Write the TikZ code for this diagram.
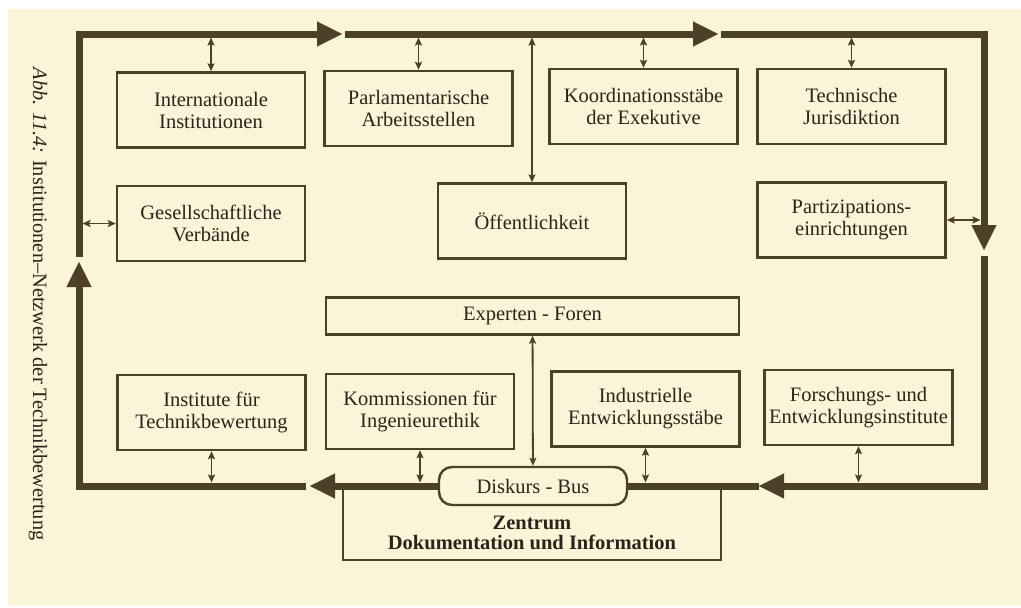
\documentclass[tikz,border=0pt]{standalone}
\usepackage{fontspec}
\setmainfont{Liberation Serif}
\usetikzlibrary{
    arrows.meta
}
\definecolor{paper}{HTML}{FAF4D9}
\definecolor{ink}{HTML}{4C4028}
\definecolor{print}{HTML}{2A2519}
\tikzset {
    box/.style = {
        draw = ink, line width = 2.4pt, fill = paper,
        minimum width = 188pt, minimum height = 75pt,
        align = center, text = print,
        font = \fontsize{20.5}{22}\selectfont
    },
    wide box/.style = {box, minimum width = 413pt, minimum height = 37pt},
    disc/.style = {box, rounded corners = 13pt,
        minimum width = 188pt, minimum height = 38pt},
    frame/.style = {draw = ink, line width = 2.4pt},
    busline/.style = {draw = ink, line width = 7pt},
    bus/.style = {busline,
        arrows = {-Triangle[length = 25pt 0 0, width = 25pt 0 0, line width = 0.1pt 0 0]}},
    link/.style = {draw = ink, line width = 1.8pt,
        arrows = {Stealth[length = 8pt 0 0, width = 7pt 0 0, inset = 1.5pt]-Stealth[length = 8pt 0 0, width = 7pt 0 0, inset = 1.5pt]}}
}

\begin{document}
\begin{tikzpicture}[x = 1pt, y = -1pt]
    \useasboundingbox (0, 0) rectangle (1021, 608);
    \fill [white] (0, 0) rectangle (1021, 608);
    \fill [paper] (8, 9) rectangle (1021, 606);

    % caption along the left margin
    \node (caption) [rotate = -90, text = print, font = \fontsize{20.4}{22}\selectfont]
        at (38, 304) {\textit{Abb. 11.4:} Institutionen–Netzwerk der Technikbewertung};

    % corners and breaks of the ring
    \coordinate (nw) at (79, 34);
    \coordinate (ne) at (984, 34);
    \coordinate (se) at (984, 486);
    \coordinate (sw) at (79, 486);
    \coordinate (t1) at (342, 34);
    \coordinate (t2) at (345, 34);
    \coordinate (t3) at (718, 34);
    \coordinate (t4) at (721, 34);
    \coordinate (r1) at (984, 250);
    \coordinate (r2) at (984, 256);
    \coordinate (b1) at (759, 486);
    \coordinate (b2) at (310, 486);
    \coordinate (b3) at (306, 486);
    \coordinate (l1) at (79, 262);
    \coordinate (l2) at (79, 257);
    % inner edges of the ring
    \coordinate (busN) at (79, 37.5);
    \coordinate (busS) at (79, 482.5);
    \coordinate (busW) at (82.5, 0);
    \coordinate (busE) at (980.5, 0);

    \node (intl) [box] at (211, 110) {Internationale\\Institutionen};
    \node (parl) [box] at (418.5, 108.5) {Parlamentarische\\Arbeitsstellen};
    \node (koord) [box] at (643.5, 106.5) {Koordinationsstäbe\\der Exekutive};
    \node (jur) [box] at (851.5, 106.5) {Technische\\Jurisdiktion};

    \node (verb) [box] at (211, 223.5) {Gesellschaftliche\\Verbände};
    \node (oeff) [box] at (532, 221) {Öffentlichkeit};
    \node (part) [box] at (851.5, 220) {Partizipations-\\einrichtungen};

    \node (experten) [wide box] at (532.5, 316) {Experten - Foren};

    \node (inst) [box] at (211.5, 412.5) {Institute für\\Technikbewertung};
    \node (komm) [box] at (420, 411.5) {Kommissionen für\\Ingenieurethik};
    \node (indu) [box] at (645.5, 409) {Industrielle\\Entwicklungsstäbe};
    \node (fue) [box] at (858.5, 407.5) {Forschungs- und\\Entwicklungsinstitute};

    \draw [bus] (l2) -- (nw) -- (t1);
    \draw [bus] (t2) -- (t3);
    \draw [bus] (t4) -- (ne) -- (r1);
    \draw [bus] (r2) -- (se) -- (b1);

    % documentation centre below the bus
    \coordinate (zl) at (343, 486);
    \coordinate (zr) at (721, 486);
    \coordinate (zb) at (532, 560);
    \draw [frame] (zl) |- (zb) -| (zr);
    \node (zentrum) [text = print, align = center,
        font = \bfseries\fontsize{20.5}{20}\selectfont] at (532, 533)
        {Zentrum\\Dokumentation und Information};

    \node (diskurs) [disc] at (533, 486) {Diskurs - Bus};
    \draw [busline] (b1) -- (diskurs);
    \draw [bus] (diskurs) -- (b2);
    \draw [bus] (b3) -- (sw) -- (l1);

    \foreach \n in {intl, parl, koord, jur, oeff}
        \draw [link] (\n.north |- busN) -- (\n.north);
    \foreach \n in {inst, komm, indu, fue}
        \draw [link] (\n.south) -- (\n.south |- busS);
    \draw [link] (verb.west -| busW) -- (verb.west);
    \draw [link] (part.east) -- (part.east -| busE);
    \draw [link] (experten) -- (diskurs);
\end{tikzpicture}
\end{document}
